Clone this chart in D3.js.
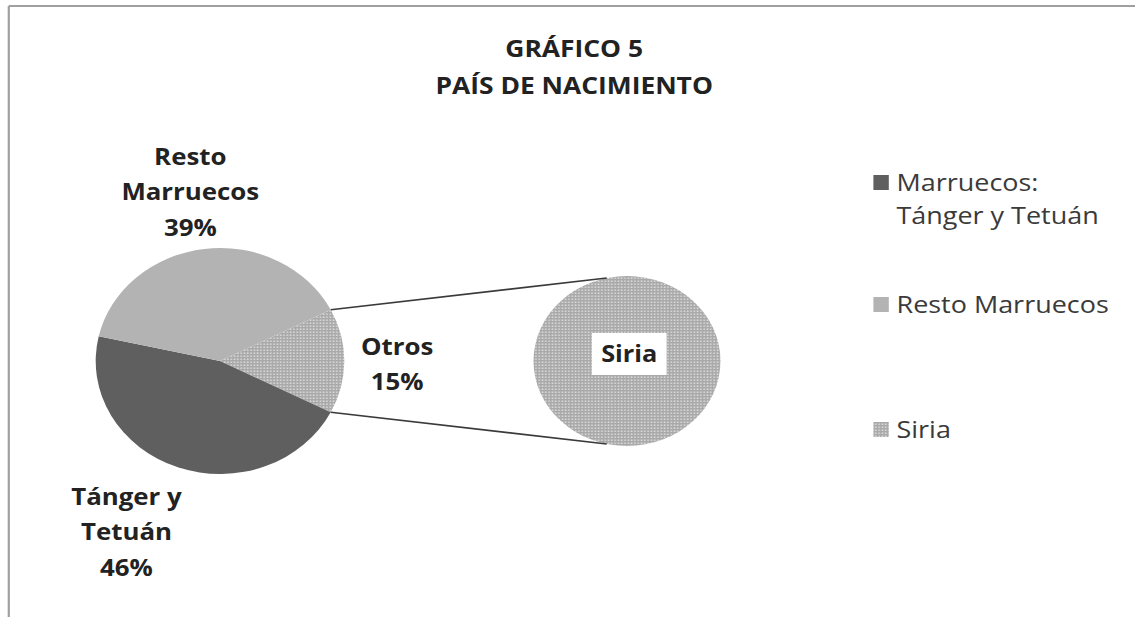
<!DOCTYPE html>
<html>
<head>
<meta charset="utf-8">
<script src="https://cdn.jsdelivr.net/npm/d3@7"></script>
<style>
  html, body { margin: 0; padding: 0; background: #fff; }
  svg { display: block; }
</style>
</head>
<body>
<svg id="chart"></svg>
<script>
// ---- data ----
const titleLines = ["GRÁFICO 5", "PAÍS DE NACIMIENTO"];
const categories = ["Otros", "Marruecos: Tánger y Tetuán", "Resto Marruecos"];
const values = [15, 46, 39];
const labelLines = [["Otros", "15%"], ["Tánger y", "Tetuán", "46%"], ["Resto", "Marruecos", "39%"]];
const secondaryCategories = ["Siria"];
const secondaryValues = [15];
const legendItems = [["Marruecos:", "Tánger y Tetuán"], ["Resto Marruecos"], ["Siria"]];

// ---- layout ----
const W = 1135, H = 617;
const SX = 1.1;                 // the reference is horizontally stretched
const VW = W / SX;
const svg = d3.select("#chart")
  .attr("width", W).attr("height", H)
  .attr("viewBox", `0 0 ${VW} ${H}`)
  .attr("preserveAspectRatio", "none");

const FONT = "'Open Sans', 'DejaVu Sans', sans-serif";
const defs = svg.append("defs");
const pat = defs.append("pattern").attr("id", "dots")
  .attr("patternUnits", "userSpaceOnUse").attr("width", 3).attr("height", 3);
pat.append("rect").attr("width", 3).attr("height", 3).attr("fill", "#a9a9a9");
pat.append("rect").attr("x", 0.5).attr("y", 0.5).attr("width", 1.4).attr("height", 1.4).attr("fill", "#e2e2e2");

const colors = d3.scaleOrdinal().domain(categories).range(["url(#dots)", "#5f5f5f", "#b3b3b3"]);

// frame
svg.append("line").attr("x1", 8).attr("x2", VW).attr("y1", 6).attr("y2", 6)
  .attr("stroke", "#a0a0a0").attr("stroke-width", 2);
svg.append("line").attr("x1", 8).attr("x2", 8).attr("y1", 6).attr("y2", H)
  .attr("stroke", "#a0a0a0").attr("stroke-width", 2);

// title
svg.append("text").attr("x", 522).attr("y", 57)
  .attr("text-anchor", "middle").attr("font-family", FONT).attr("font-weight", 700)
  .attr("font-size", 24).attr("fill", "#222")
  .selectAll("tspan").data(titleLines).join("tspan")
  .attr("x", 522).attr("dy", (d, i) => i === 0 ? 0 : 37).text(d => d);

// main pie
const cx = 200, cy = 361, r = 113;
const toRad = d3.scaleLinear().domain([0, 360]).range([0, 2 * Math.PI]);
const startDeg = 90 - (values[0] / 100) * 180; // Otros slice centred on the right
const pie = d3.pie().sort(null).startAngle(toRad(startDeg)).endAngle(toRad(startDeg + 360));
const arcs = pie(values);
const arc = d3.arc().innerRadius(0).outerRadius(r);
const gMain = svg.append("g").attr("transform", `translate(${cx},${cy})`);
gMain.selectAll("path").data(arcs).join("path")
  .attr("d", arc).attr("fill", (d, i) => colors(categories[i]));

// secondary pie
const cx2 = 570, cy2 = 361, r2 = 85;
const arcs2 = d3.pie().sort(null)(secondaryValues);
const arc2 = d3.arc().innerRadius(0).outerRadius(r2);
const gSec = svg.append("g").attr("transform", `translate(${cx2},${cy2})`);
gSec.selectAll("path").data(arcs2).join("path")
  .attr("d", arc2).attr("fill", "url(#dots)");

// connector lines
const otros = arcs[0];
const pt = (x0, y0, rr, a) => [x0 + rr * Math.sin(a), y0 - rr * Math.cos(a)];
const tilt = toRad(12.5);
const c1a = pt(cx, cy, r, otros.startAngle), c1b = pt(cx2, cy2, r2, -tilt);
const c2a = pt(cx, cy, r, otros.endAngle), c2b = pt(cx2, cy2, r2, Math.PI + tilt);
[[c1a, c1b], [c2a, c2b]].forEach(([a, b]) => {
  svg.append("line").attr("x1", a[0]).attr("y1", a[1]).attr("x2", b[0]).attr("y2", b[1])
    .attr("stroke", "#3a3a3a").attr("stroke-width", 1.6);
});

// data labels
const labelPos = [[361, 355], [115, 505], [173, 165]];
labelLines.forEach((lines, i) => {
  svg.append("text").attr("text-anchor", "middle")
    .attr("font-family", FONT).attr("font-weight", 700).attr("font-size", 23.5).attr("fill", "#222")
    .selectAll("tspan").data(lines).join("tspan")
    .attr("x", labelPos[i][0]).attr("y", (d, j) => labelPos[i][1] + j * 35.5).text(d => d);
});

// secondary label with white box
svg.append("rect").attr("x", 538).attr("y", 333).attr("width", 68).attr("height", 42).attr("fill", "#fff");
svg.append("text").attr("x", 572).attr("y", 362).attr("text-anchor", "middle")
  .attr("font-family", FONT).attr("font-weight", 700).attr("font-size", 23).attr("fill", "#222")
  .text(secondaryCategories[0]);

// legend
const legendColors = ["#5f5f5f", "#b3b3b3", "url(#dots)"];
const legendY = [191, 313, 438];
const lg = svg.append("g");
legendItems.forEach((lines, i) => {
  lg.append("rect").attr("x", 794).attr("y", legendY[i] - 16).attr("width", 14).attr("height", 15)
    .attr("fill", legendColors[i]);
  lg.append("text").attr("font-family", FONT).attr("font-size", 24.5).attr("fill", "#3a3a3a")
    .selectAll("tspan").data(lines).join("tspan")
    .attr("x", 815).attr("y", (d, j) => legendY[i] + j * 33).text(d => d);
});
</script>
</body>
</html>
